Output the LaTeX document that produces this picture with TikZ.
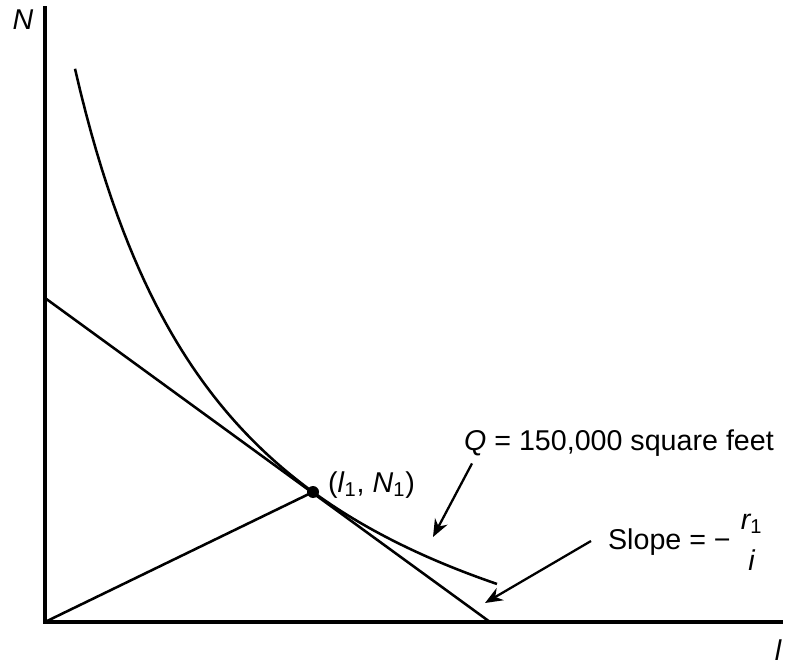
\documentclass[tikz,border=0pt]{standalone}
\usepackage{amsmath}
\usepackage{fontspec}
\setmainfont{Liberation Sans}
\usetikzlibrary{arrows.meta,positioning,calc}

\begin{document}
\begin{tikzpicture}[
  font=\fontsize{16.3}{18}\selectfont,
  axis/.style={line width=2pt, line cap=rect},
  curve/.style={line width=1.45pt},
  pointer/.style={-{Stealth[length=10pt, width=8pt]}, line width=1.3pt},
  lbl/.style={inner sep=1pt},
]
\useasboundingbox (-0.9,-0.86) rectangle (14.8,12.44);

% ------------------------------------------------------------------ axes
\coordinate (o) at (0,0);
\coordinate (ytop) at (0,12.28);
\coordinate (xend) at (14.72,0);
\draw[axis] (ytop) -- (o) -- (xend);
\node[lbl] (nlab) at (-0.44,12.04) {\itshape N};
\node[lbl] (llab) at (14.66,-0.56) {\itshape l};

% ------------------------------------------------------------------ budget line, ray and isoquant
\coordinate (ncut) at (0,6.48);
\coordinate (lcut) at (8.9,0);
\coordinate (opt) at (5.36,2.6);
\draw[curve] (ncut) -- (lcut);
\draw[curve] (o) -- (opt);
\draw[curve] plot[domain=0.6:9.04, samples=80] (\x, {47.296/(\x+2.7)-3.268});
\fill (opt) circle (0.12);
\node[lbl, anchor=west] (optlab) at (5.62,2.74) {(\textit{l}\textsubscript{1}, \textit{N}\textsubscript{1})};

% ------------------------------------------------------------------ labels with pointers
\node[lbl, anchor=west] (qlab) at (8.34,3.58) {\textit{Q} = 150,000 square feet};
\node[lbl, anchor=west] (slab) at (11.22,1.6)
  {Slope = − $\genfrac{}{}{0pt}{0}{\mbox{\itshape r\textsubscript{\upshape 1}}}{\mbox{\itshape i}}$};
\coordinate (qtip) at (7.76,1.7);
\coordinate (stip) at (8.8,0.38);
\draw[pointer] ($(qlab.south west)+(0.2,-0.1)$) -- (qtip);
\draw[pointer] ($(slab.west)+(-0.3,0.02)$) -- (stip);
\end{tikzpicture}
\end{document}
